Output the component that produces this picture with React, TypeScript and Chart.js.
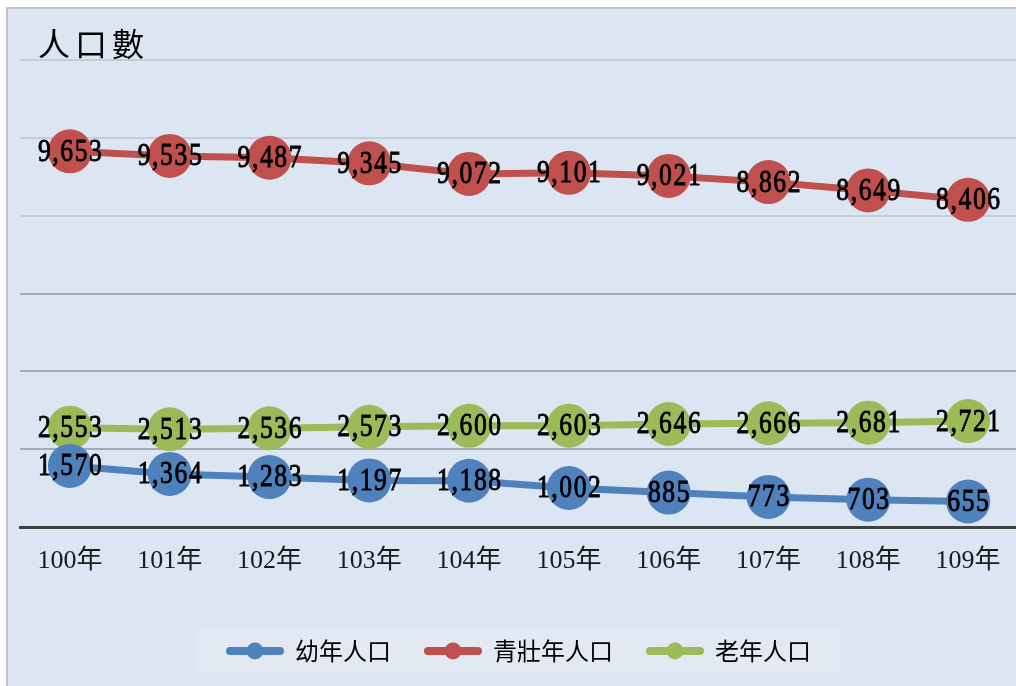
import React, { useEffect, useRef } from "react";
import { Chart, registerables } from "chart.js";

Chart.register(...registerables);

const categories = ["100年", "101年", "102年", "103年", "104年", "105年", "106年", "107年", "108年", "109年"];
const youthValues = [1570, 1364, 1283, 1197, 1188, 1002, 885, 773, 703, 655];
const adultValues = [9653, 9535, 9487, 9345, 9072, 9101, 9021, 8862, 8649, 8406];
const elderValues = [2553, 2513, 2536, 2573, 2600, 2603, 2646, 2666, 2681, 2721];
const seriesNames = ["幼年人口", "青壯年人口", "老年人口"];
const seriesColors = ["#4f81bd", "#c0504d", "#9bbb59"];
const titleText = "人口數";

const SERIF = "'Liberation Serif', 'Noto Sans CJK TC', serif";
const CJK = "'Noto Sans CJK TC', 'Noto Sans CJK SC', sans-serif";

function legendIcon(color: string): HTMLCanvasElement {
  const c = document.createElement("canvas");
  c.width = 58;
  c.height = 18;
  const ctx = c.getContext("2d")!;
  ctx.strokeStyle = color;
  ctx.lineWidth = 8;
  ctx.lineCap = "round";
  ctx.beginPath();
  ctx.moveTo(4, 9);
  ctx.lineTo(54, 9);
  ctx.stroke();
  ctx.fillStyle = color;
  ctx.beginPath();
  ctx.arc(29, 9, 8.5, 0, Math.PI * 2);
  ctx.fill();
  return c;
}

const legendBoxPlugin = {
  id: "legendBox",
  beforeDraw(chart: any) {
    const lg = chart.legend;
    if (!lg || !lg.legendHitBoxes || !lg.legendHitBoxes.length) return;
    const boxes = lg.legendHitBoxes;
    const left = Math.min(...boxes.map((b: any) => b.left)) - 32;
    const right = Math.max(...boxes.map((b: any) => b.left + b.width)) + 29;
    const cy = boxes[0].top + boxes[0].height / 2;
    const ctx = chart.ctx;
    ctx.save();
    ctx.fillStyle = "#e3e9f3";
    ctx.fillRect(left, cy - 21, right - left, 42);
    ctx.restore();
  },
};

const titlePlugin = {
  id: "titleText",
  afterDraw(chart: any) {
    const ctx = chart.ctx;
    ctx.save();
    ctx.font = `32px ${CJK}`;
    (ctx as any).letterSpacing = "5px";
    ctx.fillStyle = "#000";
    ctx.textAlign = "left";
    ctx.textBaseline = "middle";
    ctx.fillText(titleText, 30, 35);
    ctx.restore();
  },
};

const valueLabelPlugin = {
  id: "valueLabels",
  afterDatasetsDraw(chart: any) {
    const ctx = chart.ctx;
    const sx = 0.8;
    chart.data.datasets.forEach((ds: any, i: number) => {
      const meta = chart.getDatasetMeta(i);
      meta.data.forEach((pt: any, j: number) => {
        const v = ds.data[j] as number;
        const txt = v.toLocaleString("en-US");
        ctx.save();
        ctx.font = `32px ${SERIF}`;
        (ctx as any).letterSpacing = "2px";
        ctx.fillStyle = "#000";
        ctx.strokeStyle = "#000";
        ctx.lineWidth = 0.9;
        ctx.textAlign = "center";
        ctx.textBaseline = "middle";
        ctx.translate(pt.x, pt.y + 1);
        ctx.scale(sx, 1);
        ctx.fillText(txt, 1, 0);
        ctx.strokeText(txt, 1, 0);
        ctx.restore();
      });
    });
  },
};

export default function App() {
  const ref = useRef<HTMLCanvasElement>(null);

  useEffect(() => {
    if (!ref.current) return;
    const allValues = [youthValues, adultValues, elderValues];
    const chart = new Chart(ref.current, {
      type: "line",
      data: {
        labels: categories,
        datasets: allValues.map((vals, i) => ({
          label: seriesNames[i],
          data: vals,
          borderColor: seriesColors[i],
          backgroundColor: seriesColors[i],
          borderWidth: 7,
          pointRadius: 22,
          pointHoverRadius: 22,
          pointBorderWidth: 0,
          pointBackgroundColor: seriesColors[i],
          tension: 0,
          fill: false,
        })),
      },
      options: {
        animation: false,
        responsive: false,
        maintainAspectRatio: false,
        events: [],
        layout: { autoPadding: false, padding: { left: 12, right: 0, top: 51, bottom: 36 } },
        scales: {
          x: {
            type: "category",
            offset: true,
            grid: { display: false },
            border: { display: true, color: "#404040", width: 3 },
            ticks: {
              autoSkip: false,
              maxRotation: 0,
              padding: 11,
              color: "#1a1a1a",
              font: { family: SERIF, size: 26 },
            },
            afterFit(scale: any) {
              scale.height = 78;
            },
          },
          y: {
            min: 0,
            max: 12000,
            ticks: { display: false, stepSize: 2000 },
            border: { display: false },
            grid: {
              drawTicks: false,
              lineWidth: 2,
              color: (c: any) => {
                const v = c.tick ? c.tick.value : 0;
                if (v === 0) return "rgba(0,0,0,0)";
                return v <= 6000 ? "#a4aab2" : "#c6ccd4";
              },
            },
          },
        },
        plugins: {
          title: { display: false },
          tooltip: { enabled: false },
          legend: {
            display: true,
            position: "bottom",
            labels: {
              usePointStyle: true,
              pointStyleWidth: 56,
              padding: 34,
              color: "#000",
              font: { family: CJK, size: 24 },
              generateLabels: (ch: any) =>
                ch.data.datasets.map((ds: any, i: number) => ({
                  text: ds.label,
                  pointStyle: legendIcon(seriesColors[i]),
                  fillStyle: seriesColors[i],
                  strokeStyle: seriesColors[i],
                  lineWidth: 0,
                  hidden: false,
                  datasetIndex: i,
                  fontColor: "#000",
                })),
            },
          },
        },
      },
      plugins: [legendBoxPlugin, titlePlugin, valueLabelPlugin],
    } as any);
    return () => chart.destroy();
  }, []);

  return (
    <div
      style={{
        position: "fixed",
        left: 6,
        top: 7,
        width: 1020,
        height: 700,
        background: "#dce6f2",
        borderLeft: "2px solid #c4c4c4",
        borderTop: "2px solid #c4c4c4",
        overflow: "hidden",
      }}
    >
      <canvas ref={ref} width={1010} height={700} style={{ display: "block", width: 1010, height: 700 }} />
    </div>
  );
}
